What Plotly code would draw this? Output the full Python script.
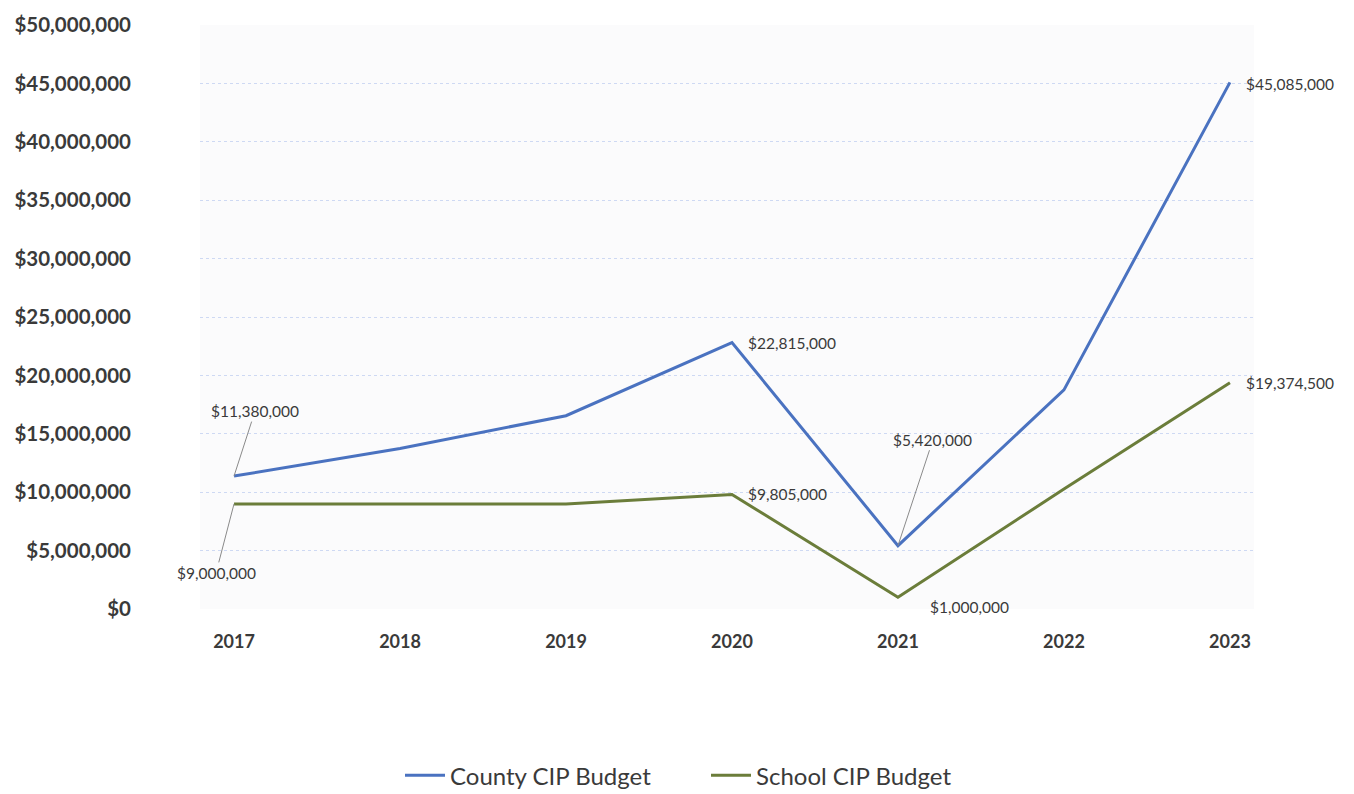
import plotly.graph_objects as go

years = [2017, 2018, 2019, 2020, 2021, 2022, 2023]
county_cip = [11380000, 13750000, 16550000, 22815000, 5420000, 18760000, 45085000]
school_cip = [9000000, 9000000, 9000000, 9805000, 1000000, 10270000, 19374500]

y_ticks = list(range(0, 50000001, 5000000))
y_tick_text = ["$" + format(v, ",") for v in y_ticks]

FONT = "Lato, 'Open Sans', sans-serif"
TEXT = "#3a3a3a"

fig = go.Figure()
fig.add_trace(go.Scatter(
    x=years, y=county_cip, mode="lines", name="County CIP Budget",
    line=dict(color="#4a72c0", width=3),
))
fig.add_trace(go.Scatter(
    x=years, y=school_cip, mode="lines", name="School CIP Budget",
    line=dict(color="#6b7d3a", width=3),
))

def money(v):
    return "$" + format(v, ",")

# value labels: (year, value, ax, ay, use_arrow, xanchor, xshift, yshift)
labels = [
    (2017, county_cip[0], 21, -65, True, "center", 0, 0),
    (2017, school_cip[0], -18, 69, True, "center", 0, 0),
    (2020, county_cip[3], 0, 0, False, "left", 14, 0),
    (2020, school_cip[3], 0, 0, False, "left", 14, 0),
    (2021, county_cip[4], 35, -106, True, "center", 0, 0),
    (2021, school_cip[4], 0, 0, False, "left", 30, -10),
    (2023, county_cip[6], 0, 0, False, "left", 14, -2),
    (2023, school_cip[6], 0, 0, False, "left", 14, 0),
]
for yr, val, ax, ay, arrow, xa, xs, ys in labels:
    ann = dict(
        x=yr, y=val, xref="x", yref="y", text=money(val),
        font=dict(family=FONT, size=15.5, color=TEXT),
        xanchor=xa, yanchor="middle", xshift=xs, yshift=ys,
    )
    if arrow:
        ann.update(showarrow=True, ax=ax, ay=ay, arrowhead=0,
                   arrowwidth=1, arrowcolor="#8a8a8a", standoff=0)
    else:
        ann.update(showarrow=False)
    fig.add_annotation(**ann)

fig.update_layout(
    width=1354, height=794,
    margin=dict(l=200, r=100, t=20, b=185),
    paper_bgcolor="white",
    plot_bgcolor="#fbfbfc",
    font=dict(family=FONT, color=TEXT),
    showlegend=True,
    legend=dict(
        orientation="h", xref="container", yref="container",
        x=400 / 1354, y=0.023, xanchor="left", yanchor="middle",
        font=dict(family=FONT, size=24, color=TEXT),
        itemwidth=40, entrywidth=251, entrywidthmode="pixels",
        bgcolor="rgba(0,0,0,0)",
    ),
)
fig.update_xaxes(
    range=[2016.795, 2023.145],
    tickvals=years, ticktext=[str(y) for y in years],
    tickfont=dict(family=FONT, size=18, color=TEXT, weight="bold"),
    showgrid=False, zeroline=False, showline=False, ticks="",
    ticklabelstandoff=20,
)
fig.update_yaxes(
    range=[0, 50000000],
    tickvals=y_ticks, ticktext=y_tick_text,
    tickfont=dict(family=FONT, size=20.5, color=TEXT, weight="bold"),
    showgrid=True, gridcolor="rgba(170,190,235,0.55)", griddash="dot",
    gridwidth=1, zeroline=False, showline=False, ticks="",
    ticklabelstandoff=68,
)

fig.write_html("out.html")
